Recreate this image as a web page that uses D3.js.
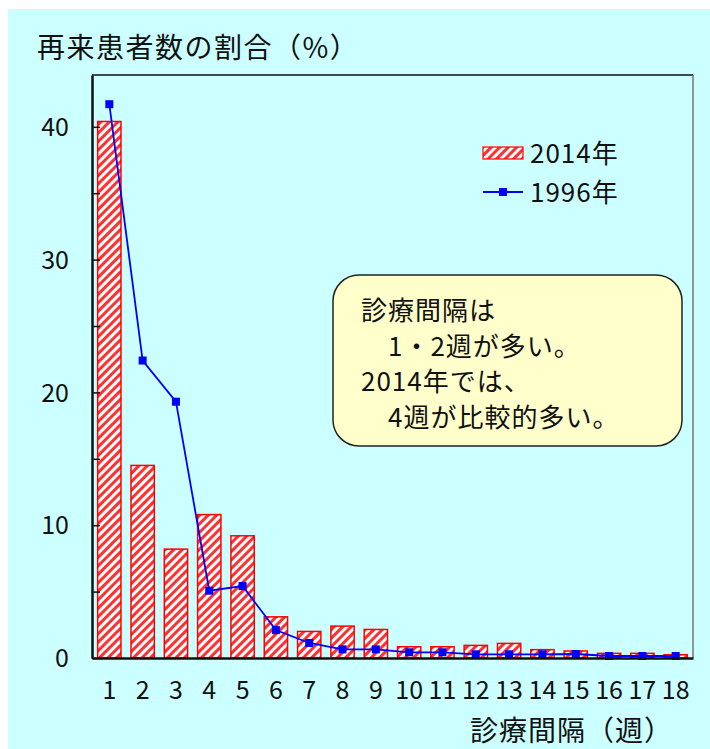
<!DOCTYPE html>
<html><head><meta charset="utf-8">
<script src="https://cdn.jsdelivr.net/npm/d3@7"></script>
<style>
body{margin:0;background:#fff;}
svg text{font-family:"Noto Sans CJK JP","Noto Sans",sans-serif;fill:#111;font-weight:400;}
</style></head>
<body><svg id="c" width="710" height="749"></svg>
<script>
const weeks = ["1","2","3","4","5","6","7","8","9","10","11","12","13","14","15","16","17","18"];
const values2014 = [40.4,14.5,8.2,10.8,9.2,3.1,2.0,2.4,2.15,0.85,0.85,0.95,1.1,0.63,0.53,0.35,0.35,0.25];
const values1996 = [41.7,22.4,19.3,5.07,5.42,2.1,1.13,0.65,0.65,0.43,0.43,0.28,0.28,0.28,0.3,0.15,0.15,0.15];
const yTicks = [0,10,20,30,40];
const yMinorTicks = [5,15,25,35];
const seriesNames = ["2014年","1996年"];
const title = "再来患者数の割合（%）";
const xTitle = "診療間隔（週）";
const noteLines = ["診療間隔は","　1・2週が多い。","2014年では、","　4週が比較的多い。"];

const svg = d3.select("#c");
const L=92,R=693,T=75,B=658;

svg.append("rect").attr("x",8).attr("y",9).attr("width",702).attr("height",740).attr("fill","#ccffff");

const defs = svg.append("defs");
const pat = defs.append("pattern").attr("id","hatch").attr("patternUnits","userSpaceOnUse")
  .attr("width",6).attr("height",6).attr("patternTransform","rotate(45)");
pat.append("rect").attr("width",6).attr("height",6).attr("fill","#fff");
pat.append("rect").attr("x",0).attr("width",3).attr("height",6).attr("fill","#ff3030");

const x = d3.scaleBand().domain(weeks).range([L,R]).paddingInner(0.3).paddingOuter(0.17);
const y = d3.scaleLinear().domain([0,43.9]).range([B,T]);

// plot frame (top/right)
svg.append("line").attr("x1",L).attr("x2",R).attr("y1",T).attr("y2",T).attr("stroke","#111").attr("stroke-width",1.5);
svg.append("line").attr("x1",R).attr("x2",R).attr("y1",T).attr("y2",B).attr("stroke","#777").attr("stroke-width",1.5);

// bars
svg.append("g").selectAll("rect").data(values2014).join("rect")
  .attr("x",(d,i)=>x(weeks[i])).attr("width",x.bandwidth())
  .attr("y",d=>y(d)).attr("height",d=>B-y(d))
  .attr("fill","url(#hatch)").attr("stroke","#ff0000").attr("stroke-width",1.5);

// line
const line = d3.line().x((d,i)=>x(weeks[i])+x.bandwidth()/2).y(d=>y(d));
svg.append("path").datum(values1996).attr("d",line).attr("fill","none").attr("stroke","#0000ff").attr("stroke-width",1.8);
svg.append("g").selectAll("rect").data(values1996).join("rect")
  .attr("x",(d,i)=>x(weeks[i])+x.bandwidth()/2-4).attr("y",d=>y(d)-4)
  .attr("width",8).attr("height",8).attr("fill","#0000ff");

// axes
const yAxis = d3.axisLeft(y).tickValues(yTicks.concat(yMinorTicks)).tickSizeInner(-8).tickSizeOuter(0).tickFormat(d=>yTicks.includes(d)?d:"");
const gy = svg.append("g").attr("transform",`translate(${L},0)`).call(yAxis);
gy.select(".domain").attr("stroke","#111").attr("stroke-width",2.5);
gy.selectAll(".tick line").attr("stroke","#111").attr("stroke-width",1.5);
gy.selectAll(".tick text").attr("x",-23).attr("font-size",25).attr("fill","#111").attr("dy","0.35em");

const xAxis = d3.axisBottom(x).tickSize(0).tickPadding(23);
const gx = svg.append("g").attr("transform",`translate(0,${B})`).call(xAxis);
gx.select(".domain").attr("stroke","#111").attr("stroke-width",2.5);
gx.selectAll(".tick text").attr("font-size",25).attr("fill","#111").attr("dy","0.71em");

// titles
svg.append("text").attr("x",37).attr("y",58).attr("font-size",28).attr("letter-spacing",1.5).text(title);
svg.append("text").attr("x",470).attr("y",741).attr("font-size",28).attr("letter-spacing",1).text(xTitle);

// legend
svg.append("rect").attr("x",483).attr("y",147).attr("width",40).attr("height",12)
  .attr("fill","url(#hatch)").attr("stroke","#ff0000").attr("stroke-width",1.2);
svg.append("text").attr("x",530).attr("y",163).attr("font-size",26).attr("letter-spacing",1).text(seriesNames[0]);
svg.append("line").attr("x1",483).attr("x2",523).attr("y1",192).attr("y2",192).attr("stroke","#0000ff").attr("stroke-width",1.8);
svg.append("rect").attr("x",499).attr("y",188).attr("width",8).attr("height",8).attr("fill","#0000ff");
svg.append("text").attr("x",530).attr("y",202).attr("font-size",26).attr("letter-spacing",1).text(seriesNames[1]);

// note box
svg.append("rect").attr("x",333).attr("y",275).attr("width",349).attr("height",171).attr("rx",26)
  .attr("fill","#ffffcc").attr("stroke","#222").attr("stroke-width",1.5);
svg.append("g").selectAll("text").data(noteLines).join("text")
  .attr("x",361).attr("y",(d,i)=>320+i*35.5).attr("font-size",26).attr("letter-spacing",1).text(d=>d);
</script></body></html>
